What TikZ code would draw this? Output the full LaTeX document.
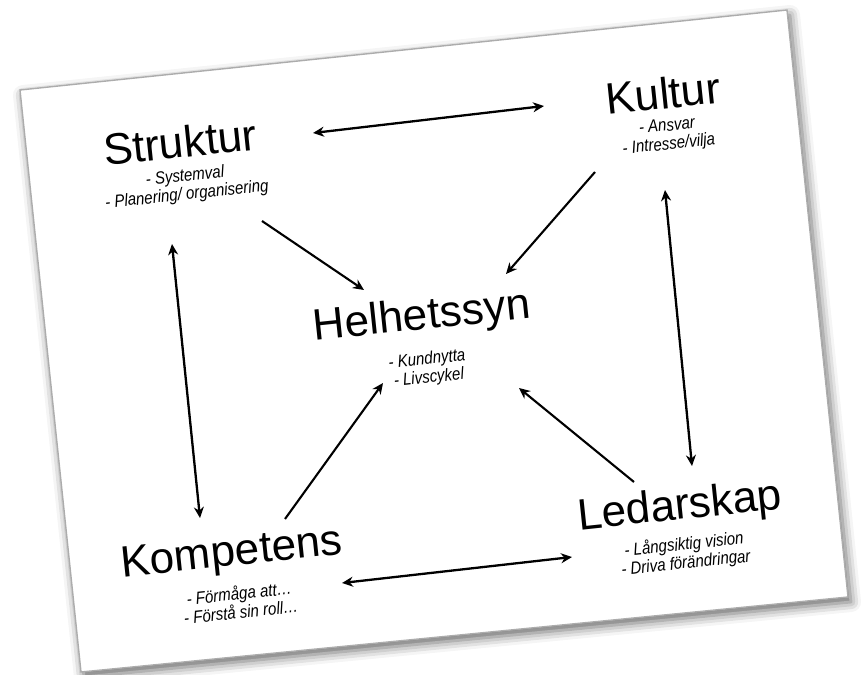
\documentclass[tikz,border=0pt]{standalone}
\usepackage{fontspec}
\setmainfont{Liberation Sans}
\usetikzlibrary{arrows.meta,shadows.blur}
% condensed line for the small bullet texts
\newcommand{\narrowline}[1]{\scalebox{0.86}[1]{#1}}
\begin{document}
\begin{tikzpicture}[x=1pt,y=-1pt,
  title/.style={font=\fontsize{44}{48}\selectfont, inner sep=0pt, rotate=6},
  sub/.style={font=\fontsize{17.5}{18.5}\selectfont\itshape, align=center, inner sep=0pt, rotate=6},
  link/.style={line width=2.1pt, -{Stealth[length=11pt,width=10pt]}},
  both/.style={line width=2.3pt, {Stealth[length=11pt,width=10pt]}-{Stealth[length=11pt,width=10pt]}},
]
\useasboundingbox (0,0) rectangle (863,675);

% the tilted slide with its soft shadow
\coordinate (tl) at (20,90);
\coordinate (tr) at (787,10);
\coordinate (br) at (848,597);
\coordinate (bl) at (81,672);
\fill[white, blur shadow={shadow xshift=3pt, shadow yshift=-5pt,
      shadow blur radius=10pt, shadow opacity=60}]
  (tl) -- (tr) -- (br) -- (bl) -- cycle;
\draw[gray!65, line width=1.4pt] (tl) -- (tr) -- (br) -- (bl) -- cycle;

% titles
\node[title] (struktur)   at (180,142) {Struktur};
\node[title] (kultur)     at (663,93)  {Kultur};
\node[title] (helhet)     at (422,318) {Helhetssyn};
\node[title] (kompetens)  at (232,555) {Kompetens};
\node[title] (ledarskap)  at (680,508) {Ledarskap};

% sub points
\node[sub] (struktur-sub)  at (186,186) {\narrowline{- Systemval}\\\narrowline{- Planering/ organisering}};
\node[sub] (kultur-sub)    at (668,136) {\narrowline{- Ansvar}\\\narrowline{- Intresse/vilja}};
\node[sub] (helhet-sub)    at (428,369) {\narrowline{- Kundnytta}\\\narrowline{- Livscykel}};
\node[sub] (kompetens-sub) at (240,602) {\narrowline{- Förmåga att…}\\\narrowline{- Förstå sin roll…}};
\node[sub] (ledarskap-sub) at (685,554) {\narrowline{- Långsiktig vision}\\\narrowline{- Driva förändringar}};

% connector end points
\coordinate (sk-a) at (313,133);
\coordinate (sk-b) at (544,106);
\coordinate (kh-a) at (595,172);
\coordinate (kh-b) at (506,274);
\coordinate (sh-a) at (262,221);
\coordinate (sh-b) at (364,290);
\coordinate (sc-a) at (172,244);
\coordinate (sc-b) at (200,518);
\coordinate (kl-a) at (665,190);
\coordinate (kl-b) at (692,466);
\coordinate (ch-a) at (285,519);
\coordinate (ch-b) at (383,383);
\coordinate (lh-a) at (634,482);
\coordinate (lh-b) at (519,388);
\coordinate (cl-a) at (342,583);
\coordinate (cl-b) at (572,557);

% connectors
\draw[both] (sk-a) -- (sk-b);
\draw[link] (kh-a) -- (kh-b);
\draw[link] (sh-a) -- (sh-b);
\draw[both] (sc-a) -- (sc-b);
\draw[both] (kl-a) -- (kl-b);
\draw[link] (ch-a) -- (ch-b);
\draw[link] (lh-a) -- (lh-b);
\draw[both] (cl-a) -- (cl-b);
\end{tikzpicture}
\end{document}
